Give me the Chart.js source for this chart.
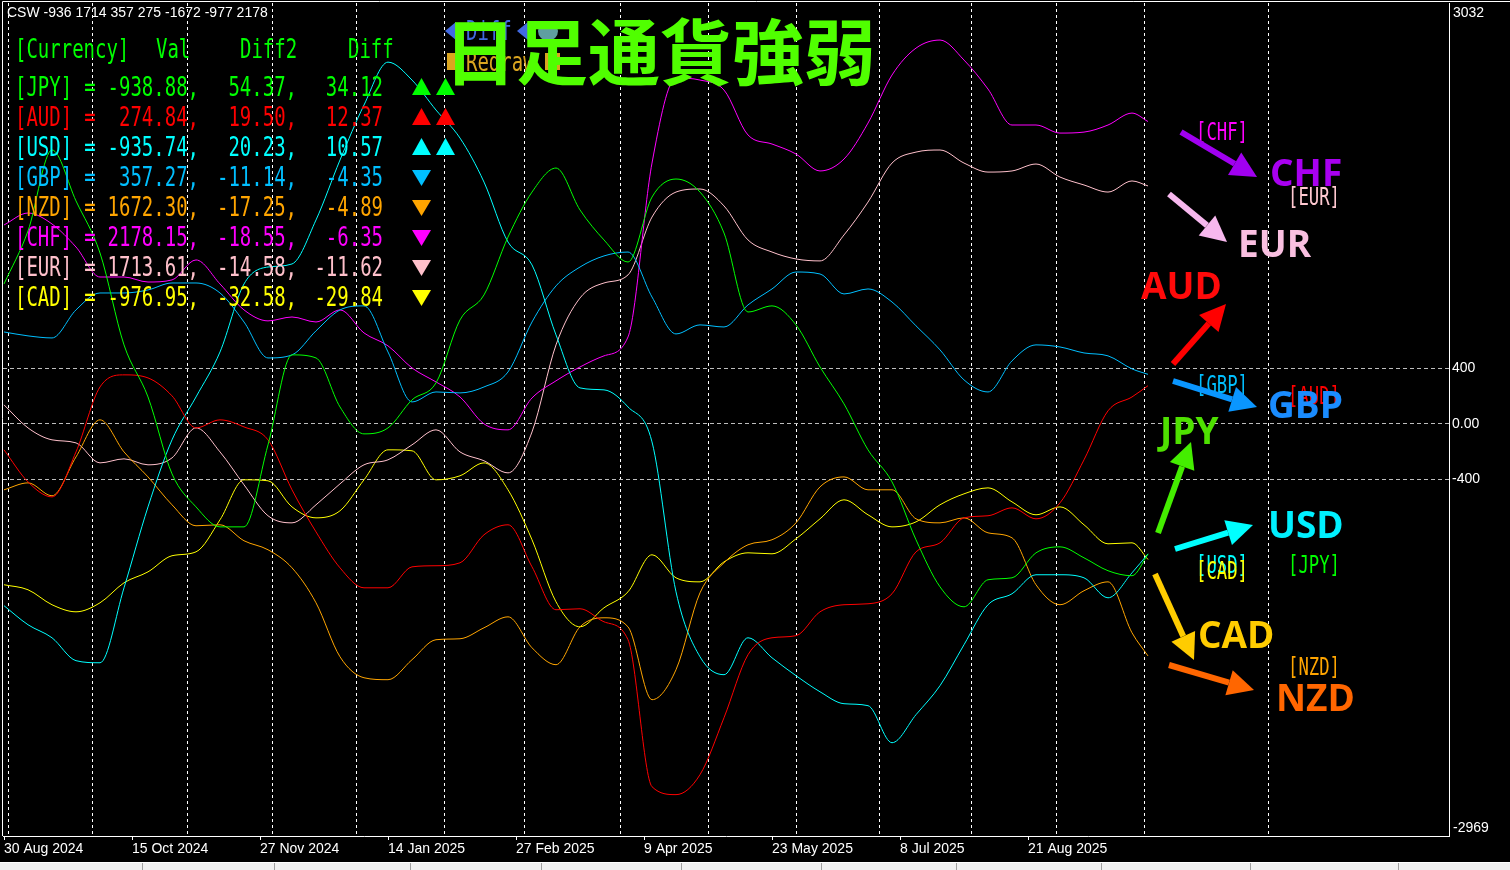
<!DOCTYPE html>
<html>
<head>
<meta charset="utf-8">
<title>日足通貨強弱</title>
<script src="https://cdn.jsdelivr.net/npm/chart.js@4.4.1/dist/chart.umd.min.js"></script>
<style>
html, body { margin: 0; padding: 0; background: #000; overflow: hidden; }
#wrap { position: relative; width: 1510px; height: 870px; }
</style>
</head>
<body>
<div id="wrap"><canvas id="csw"></canvas></div>
<script>
// bar index (daily bars, 30 Aug 2024 = 0)
const bars = [0, 6, 12, 18, 24, 30, 36, 42, 48, 54, 60, 66, 72, 78, 84, 90, 96, 102, 108, 114,
    120, 126, 132, 138, 144, 150, 156, 162, 168, 174, 180, 186, 192, 198, 204, 210, 216, 222,
    228, 234, 240, 246, 252, 258, 264, 270, 276, 282, 286];

const jpy = [1008, 1390, 1973, 1606, 1231, 569, 194, -360, -598, -742, -742, -151, 497, 475, 122, -72,
    -29, 173, 295, 749, 929, 1346, 1670, 1843, 1541, 1325, 1166, 1634, 1764, 1670, 1375, 806, 850, 713,
    410, 144, -187, -418, -835, -1174, -1318, -1123, -1109, -929, -886, -965, -1058, -1094, -939];
const aud = [-187, -418, -526, -202, 266, 353, 331, 202, -29, 29, -22, -115, -475, -778, -1037, -1181,
    -1181, -1030, -1022, -1001, -799, -727, -1030, -1339, -1332, -1426, -1555, -2614, -2671, -2527, -2117,
    -1663, -1541, -1526, -1354, -1303, -1296, -1224, -922, -857, -677, -662, -605, -684, -569, -259, 94, 194, 275];
const usd = [-1310, -1447, -1541, -1706, -1721, -1181, -598, -115, 194, 518, 1008, 1130, 1152, 1469, 1901,
    2297, 2606, 2477, 2261, 2059, 1742, 1310, 1145, 641, 259, 245, 122, -130, -1210, -1678, -1807, -1541,
    -1685, -1814, -1930, -2016, -2030, -2297, -2095, -1886, -1591, -1303, -1224, -1087, -1087, -1109, -1253, -1073, -936];
const gbp = [662, 634, 619, 821, 943, 943, 965, 1015, 1015, 943, 734, 475, 497, 670, 821, 850, 518, 158,
    230, 223, 266, 374, 734, 994, 1130, 1210, 1238, 914, 648, 713, 698, 857, 972, 1094, 1080, 936, 972, 878,
    706, 533, 317, 230, 454, 569, 554, 511, 490, 396, 357];
const nzd = [-475, -425, -518, -238, 29, -202, -382, -583, -734, -727, -842, -907, -1037, -1289, -1678,
    -1829, -1843, -1699, -1555, -1548, -1469, -1390, -1613, -1735, -1462, -1397, -1462, -1987, -1771, -1217,
    -1001, -871, -835, -713, -454, -382, -475, -475, -684, -713, -677, -785, -821, -1159, -1303, -1202, -1138, -1505, -1672];
const chf = [1433, 1519, 1440, 1274, 1058, 1058, 1022, 1037, 1181, 1008, 821, 742, 770, 734, 821, 655, 562,
    403, 302, 194, 0, -43, 187, 310, 410, 490, 626, 1879, 2491, 2477, 2405, 2081, 2016, 1944, 1822, 1908, 2167,
    2513, 2707, 2765, 2621, 2412, 2153, 2153, 2095, 2102, 2153, 2239, 2178];
const eur = [137, -29, -115, -137, -281, -252, -295, -245, -29, -202, -439, -662, -713, -583, -432, -295,
    -259, -151, -43, -202, -266, -353, -58, 569, 907, 1015, 1073, 1490, 1670, 1692, 1570, 1325, 1238, 1188,
    1174, 1361, 1598, 1879, 1958, 1973, 1879, 1814, 1822, 1872, 1778, 1721, 1670, 1750, 1714];
const cad = [-1159, -1195, -1303, -1354, -1289, -1145, -1066, -950, -922, -691, -403, -410, -598, -677,
    -626, -403, -187, -194, -403, -374, -281, -475, -835, -1282, -1462, -1325, -1210, -943, -1109, -1138,
    -994, -929, -936, -828, -684, -547, -655, -742, -706, -583, -504, -461, -562, -655, -598, -727, -864, -857, -977];

const dateIdx = [0, 32, 64, 96, 128, 160, 192, 224, 256];
const dateLabels = ['30 Aug 2024', '15 Oct 2024', '27 Nov 2024', '14 Jan 2025', '27 Feb 2025',
    '9 Apr 2025', '23 May 2025', '8 Jul 2025', '21 Aug 2025'];
const gridIdx = [1, 22, 46, 67, 88, 110, 130, 154, 176, 198, 219, 242, 263, 285, 316];
const yTicks = [400, 0, -400];
const yTickLabels = ['400', '0.00', '-400'];
const yMin = -2969;
const yMax = 3032;
const xMin = -0.25;
const xMax = 361.25;

// table in the upper left
const currencies = ['JPY', 'AUD', 'USD', 'GBP', 'NZD', 'CHF', 'EUR', 'CAD'];
const tableVal = ['-938.88,', '274.84,', '-935.74,', '357.27,', '1672.30,', '2178.15,', '1713.61,', '-976.95,'];
const tableDiff2 = ['54.37,', '19.50,', '20.23,', '-11.14,', '-17.25,', '-18.55,', '-14.58,', '-32.58,'];
const tableDiff = ['34.12', '12.37', '10.57', '-4.35', '-4.89', '-6.35', '-11.62', '-29.84'];
const trend = [2, 2, 2, -1, -1, -1, -1, -1];
const cswLine = 'CSW -936 1714 357 275 -1672 -977 2178';

const colors = {
    JPY: '#00ff00', AUD: '#ff0000', USD: '#00ffff', GBP: '#00bfff',
    NZD: '#ffa500', CHF: '#ff00ff', EUR: '#ffc0cb', CAD: '#ffff00',
};
const series = { JPY: jpy, AUD: aud, USD: usd, GBP: gbp, NZD: nzd, CHF: chf, EUR: eur, CAD: cad };

// narrow, tall monospace text like the terminal font
function monoText(ctx, str, x, y, align, size, sx) {
    ctx.save();
    ctx.translate(x, y);
    ctx.scale(sx || 0.73, 1);
    ctx.font = size + 'px "DejaVu Sans Mono"';
    ctx.textAlign = align;
    ctx.textBaseline = 'middle';
    ctx.fillText(str, 0, 0);
    ctx.restore();
}

function arrow(ctx, x1, y1, x2, y2, color) {
    const a = Math.atan2(y2 - y1, x2 - x1);
    const hl = 26, hw = 13;
    const bx = x2 - hl * Math.cos(a);
    const by = y2 - hl * Math.sin(a);
    ctx.strokeStyle = color;
    ctx.fillStyle = color;
    ctx.lineWidth = 6;
    ctx.beginPath();
    ctx.moveTo(x1, y1);
    ctx.lineTo(bx, by);
    ctx.stroke();
    ctx.beginPath();
    ctx.moveTo(x2, y2);
    ctx.lineTo(bx + hw * Math.sin(a), by - hw * Math.cos(a));
    ctx.lineTo(bx - hw * Math.sin(a), by + hw * Math.cos(a));
    ctx.closePath();
    ctx.fill();
}

// no extra room for tick labels, the plot runs edge to edge
function noPadding(s) {
    s.paddingTop = 0;
    s.paddingBottom = 0;
    s.paddingLeft = 0;
    s.paddingRight = 0;
}

const overlay = {
    id: 'overlay',
    afterDraw(chart) {
        const ctx = chart.ctx;
        const area = chart.chartArea;
        const y = chart.scales.y;
        ctx.save();

        // frame
        ctx.strokeStyle = '#ffffff';
        ctx.lineWidth = 1;
        ctx.beginPath();
        ctx.moveTo(2.5, area.bottom);
        ctx.lineTo(2.5, 1.5);
        ctx.lineTo(1510, 1.5);
        ctx.stroke();

        // min / max of the scale
        ctx.fillStyle = '#ffffff';
        ctx.font = '14px "Liberation Sans"';
        ctx.textAlign = 'left';
        ctx.textBaseline = 'top';
        ctx.fillText(String(yMax), area.right + 4, y.getPixelForValue(yMax) + 3);
        ctx.textBaseline = 'bottom';
        ctx.fillText(String(yMin), area.right + 4, y.getPixelForValue(yMin) - 1);
        ctx.textBaseline = 'middle';
        ctx.fillText(cswLine, 7, 13);

        // table
        ctx.fillStyle = '#00ff00';
        monoText(ctx, '[Currency]', 15, 51, 'left', 26);
        monoText(ctx, 'Val', 156, 51, 'left', 26);
        monoText(ctx, 'Diff2', 240, 51, 'left', 26);
        monoText(ctx, 'Diff', 348, 51, 'left', 26);
        currencies.forEach((c, i) => {
            const ry = 89 + i * 30;
            ctx.fillStyle = colors[c];
            monoText(ctx, '[' + c + ']', 15, ry, 'left', 26);
            monoText(ctx, '=', 90, ry, 'center', 26);
            monoText(ctx, tableVal[i], 199, ry, 'right', 26);
            monoText(ctx, tableDiff2[i], 297, ry, 'right', 26);
            monoText(ctx, tableDiff[i], 383, ry, 'right', 26);
            const n = Math.abs(trend[i]);
            const ty = 87 + i * 30;
            for (let k = 0; k < n; k++) {
                const x0 = 412 + k * 24;
                ctx.beginPath();
                if (trend[i] > 0) {
                    ctx.moveTo(x0, ty + 8);
                    ctx.lineTo(x0 + 19, ty + 8);
                    ctx.lineTo(x0 + 9.5, ty - 9);
                } else {
                    ctx.moveTo(x0, ty - 7);
                    ctx.lineTo(x0 + 19, ty - 7);
                    ctx.lineTo(x0 + 9.5, ty + 9);
                }
                ctx.closePath();
                ctx.fill();
            }
        });

        // buttons under the title
        ctx.fillStyle = '#4169e1';
        ctx.beginPath();
        ctx.moveTo(445, 31); ctx.lineTo(456, 22); ctx.lineTo(456, 40); ctx.closePath(); ctx.fill();
        ctx.beginPath();
        ctx.moveTo(517, 31); ctx.lineTo(528, 22); ctx.lineTo(528, 40); ctx.closePath(); ctx.fill();
        monoText(ctx, 'Diff', 466, 33, 'left', 26);
        ctx.fillStyle = '#5f9ea0';
        ctx.beginPath(); ctx.arc(548, 31, 10, 0, Math.PI * 2); ctx.fill();
        ctx.fillStyle = '#daa520';
        ctx.fillRect(447, 53, 9, 17);
        ctx.fillRect(545, 53, 15, 17);
        monoText(ctx, 'Redraw', 466, 64, 'left', 26);

        // title
        ctx.fillStyle = '#50ff00';
        ctx.font = 'bold 72px "Noto Sans CJK JP"';
        ctx.textAlign = 'left';
        ctx.textBaseline = 'middle';
        ctx.fillText('日足通貨強弱', 444, 52);

        // small labels on the right
        [['[CHF]', 1196, 134, '#ff00ff'], ['[EUR]', 1288, 199, '#ffc8d0'], ['[GBP]', 1196, 387, '#00bfff'],
         ['[AUD]', 1288, 398, '#ff0000'], ['[USD]', 1196, 567, '#00ffff'], ['[CAD]', 1196, 573, '#ffff00'],
         ['[JPY]', 1288, 567, '#00ff00'], ['[NZD]', 1288, 669, '#ffa500']].forEach(t => {
            ctx.fillStyle = t[3];
            monoText(ctx, t[0], t[1], t[2], 'left', 24, 0.72);
        });

        // arrows
        arrow(ctx, 1181, 132, 1257, 177, '#a000f0');
        arrow(ctx, 1169, 194, 1227, 242, '#f7b8ee');
        arrow(ctx, 1173, 364, 1226, 304, '#ff0000');
        arrow(ctx, 1173, 381, 1257, 407, '#0a96ff');
        arrow(ctx, 1158, 533, 1191, 442, '#44ee00');
        arrow(ctx, 1175, 549, 1253, 525, '#00ffff');
        arrow(ctx, 1155, 574, 1194, 660, '#ffcc00');
        arrow(ctx, 1169, 665, 1254, 690, '#ff6600');

        // big labels
        ctx.font = 'bold 37px "Open Sans"';
        ctx.textAlign = 'left';
        ctx.textBaseline = 'alphabetic';
        [['CHF', 1270, 186, '#a800f0'], ['EUR', 1238, 257, '#f9bfe0'], ['AUD', 1141, 299, '#ff0a0a'],
         ['GBP', 1268, 418, '#1a8cff'], ['JPY', 1160, 444, '#4ee000'], ['USD', 1268, 538, '#00f0ff'],
         ['CAD', 1198, 648, '#ffcc00'], ['NZD', 1276, 711, '#ff6600']].forEach(t => {
            ctx.fillStyle = t[3];
            ctx.fillText(t[0], t[1], t[2]);
        });

        // tab strip at the bottom
        ctx.fillStyle = '#ffffff';
        ctx.fillRect(0, 862, 1510, 1);
        ctx.fillStyle = '#f0f0f0';
        ctx.fillRect(0, 863, 1510, 7);
        ctx.fillStyle = '#a0a0a0';
        [142, 274, 410, 541, 681, 821, 956, 1101, 1250, 1398].forEach(x => ctx.fillRect(x, 863, 1, 7));

        ctx.restore();
    },
};

const canvas = document.getElementById('csw');

new Chart(canvas, {
    type: 'line',
    data: {
        datasets: currencies.map(c => ({
            label: c,
            data: bars.map((b, i) => ({ x: b, y: series[c][i] })),
            borderColor: colors[c],
            borderWidth: 1,
            pointRadius: 0,
            fill: false,
            cubicInterpolationMode: 'monotone',
        })),
    },
    options: {
        responsive: true,
        maintainAspectRatio: false,
        animation: false,
        layout: { padding: { left: 3, top: 3, right: 0, bottom: 0 } },
        plugins: {
            legend: { display: false },
            tooltip: { enabled: false },
        },
        scales: {
            x: {
                type: 'linear',
                position: 'bottom',
                weight: 1,
                min: xMin,
                max: xMax,
                afterBuildTicks: s => { s.ticks = dateIdx.map(v => ({ value: v })); },
                afterFit: s => { s.height = 34; noPadding(s); },
                ticks: {
                    autoSkip: false,
                    maxRotation: 0,
                    align: 'start',
                    padding: 1,
                    color: '#ffffff',
                    font: { family: '"Liberation Sans"', size: 14 },
                    callback: v => dateLabels[dateIdx.indexOf(v)],
                },
                grid: { drawOnChartArea: false, drawTicks: true, tickLength: 4, color: '#ffffff' },
                border: { display: true, color: '#ffffff', width: 1 },
            },
            xg: {
                type: 'linear',
                position: 'bottom',
                weight: 0,
                min: xMin,
                max: xMax,
                afterBuildTicks: s => { s.ticks = gridIdx.map(v => ({ value: v })); },
                afterFit: s => { s.height = 0; noPadding(s); },
                ticks: { display: false },
                grid: { color: '#ffffff', lineWidth: 1, drawTicks: false },
                border: { display: false, dash: [3, 3] },
            },
            y: {
                type: 'linear',
                position: 'right',
                min: yMin,
                max: yMax,
                afterBuildTicks: s => { s.ticks = yTicks.map(v => ({ value: v })); },
                afterFit: s => { s.width = 61; noPadding(s); },
                ticks: {
                    color: '#ffffff',
                    padding: 3,
                    font: { family: '"Liberation Sans"', size: 14 },
                    callback: v => yTickLabels[yTicks.indexOf(v)],
                },
                grid: { color: '#bdbdbd', drawTicks: false },
                border: { color: '#ffffff', width: 1, dash: [4, 3] },
            },
        },
    },
    plugins: [overlay],
});
</script>
</body>
</html>
